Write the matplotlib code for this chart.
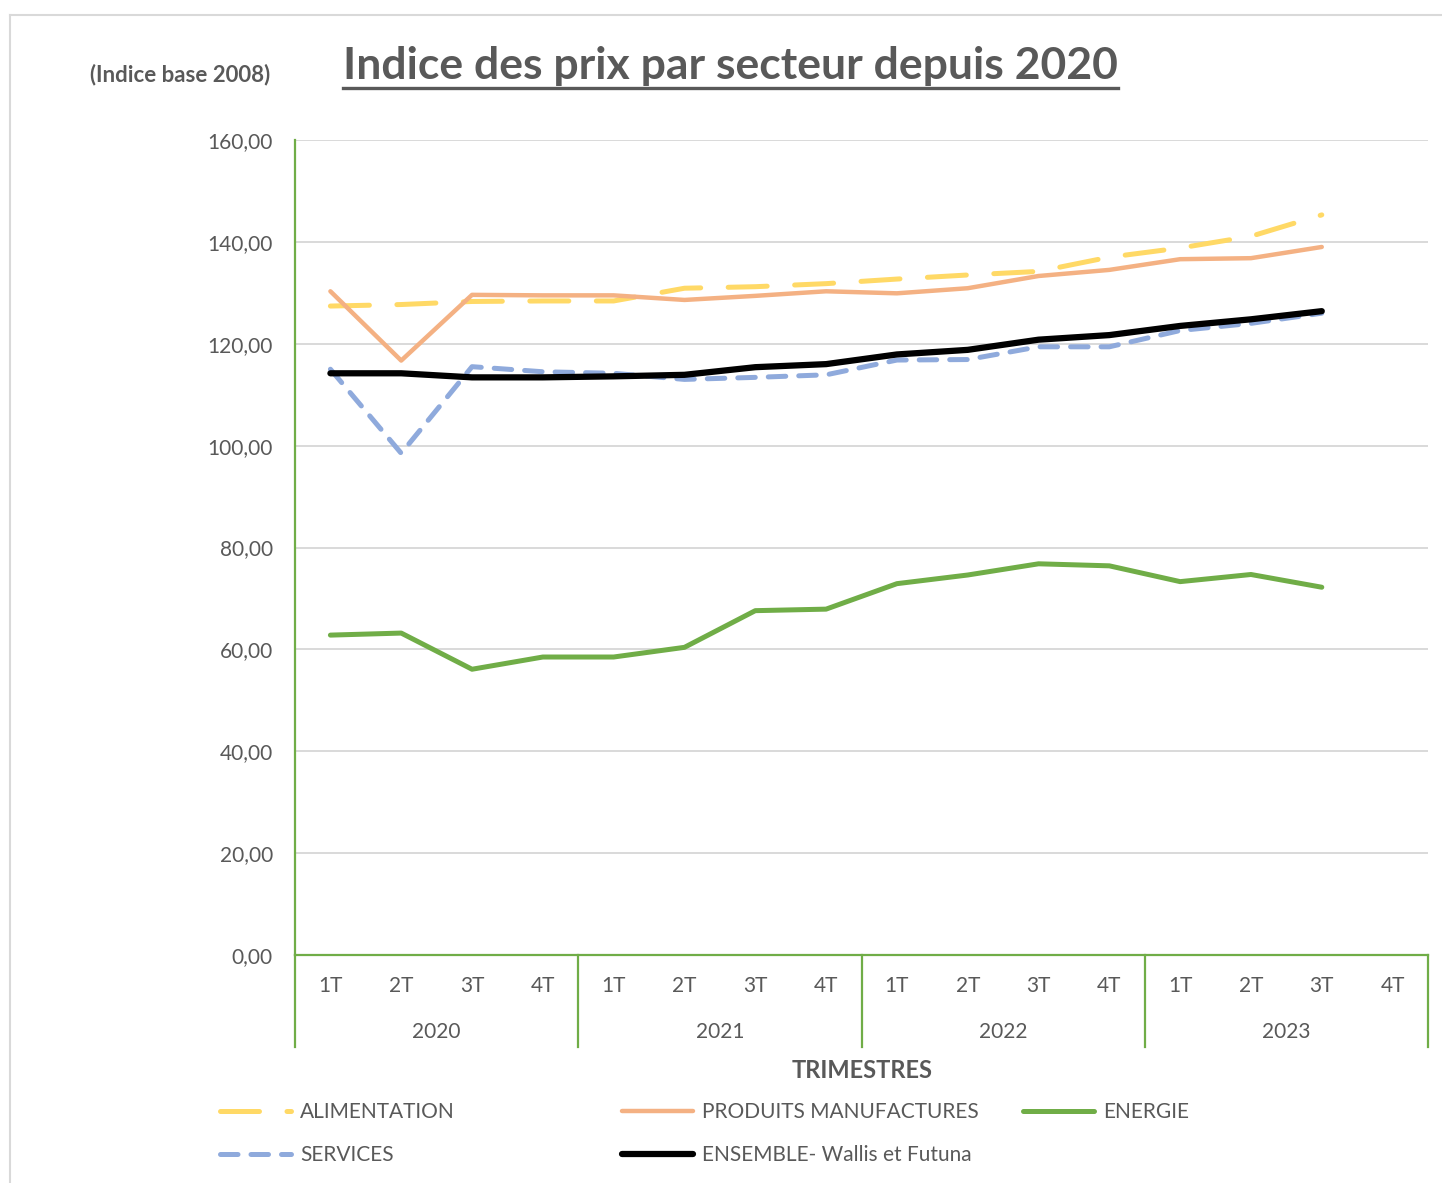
import numpy as np
import matplotlib
matplotlib.use("Agg")
import matplotlib.pyplot as plt
from matplotlib.lines import Line2D
from matplotlib.transforms import blended_transform_factory

plt.rcParams["font.family"] = ["Lato", "DejaVu Sans"]

# --- data ---
quarters = ["1T", "2T", "3T", "4T"] * 4
years = ["2020", "2021", "2022", "2023"]

alimentation = [127.4, 127.7, 128.3, 128.4, 128.4, 130.9, 131.2, 131.8,
                132.7, 133.5, 134.2, 137.0, 138.8, 141.1, 145.3]
produits = [130.3, 116.7, 129.6, 129.5, 129.5, 128.6, 129.4, 130.3,
            129.9, 130.9, 133.3, 134.5, 136.6, 136.8, 139.0]
energie = [62.8, 63.2, 56.1, 58.5, 58.5, 60.4, 67.6, 67.9,
           72.9, 74.6, 76.8, 76.4, 73.3, 74.7, 72.2]
services = [115.0, 98.5, 115.5, 114.5, 114.2, 113.0, 113.4, 113.9,
            116.8, 116.9, 119.4, 119.4, 122.6, 124.0, 126.0]
ensemble = [114.2, 114.2, 113.4, 113.4, 113.6, 113.9, 115.4, 116.0,
            117.9, 118.8, 120.8, 121.7, 123.5, 124.8, 126.4]

GREY = "#595959"
GREEN = "#70AD47"
W, H = 1442, 1183

fig = plt.figure(figsize=(W / 100, H / 100), dpi=100)
fig.patch.set_facecolor("white")
ax = fig.add_axes([295 / W, 1 - 955 / H, (1428 - 295) / W, (955 - 140) / H])

x = np.arange(len(alimentation))

h_alim, = ax.plot(x, alimentation, color="#FFD966", lw=3.6, dashes=(7.8, 5.5),
                  dash_capstyle="round", solid_joinstyle="round", label="ALIMENTATION")
h_prod, = ax.plot(x, produits, color="#F4B183", lw=3.2,
                  solid_capstyle="round", solid_joinstyle="round", label="PRODUITS MANUFACTURES")
h_ener, = ax.plot(x, energie, color=GREEN, lw=3.6,
                  solid_capstyle="round", solid_joinstyle="round", label="ENERGIE")
h_serv, = ax.plot(x, services, color="#8FAADC", lw=3.6, dashes=(3.5, 2.6),
                  dash_capstyle="round", solid_joinstyle="round", label="SERVICES")
h_ens, = ax.plot(x, ensemble, color="black", lw=4.5,
                 solid_capstyle="round", solid_joinstyle="round", label="ENSEMBLE- Wallis et Futuna")

# axes styling
ax.set_xlim(-0.5, 15.5)
ax.set_ylim(0, 160)
yt = np.arange(0, 161, 20)
ax.set_yticks(yt)
ax.set_yticklabels([f"{v:.2f}".replace(".", ",") for v in yt], fontsize=15, color=GREY)
ax.tick_params(axis="y", length=0, pad=16)
ax.set_xticks([])
ax.grid(axis="y", color="#D9D9D9", lw=1.4)
ax.set_axisbelow(True)
for s in ["top", "right"]:
    ax.spines[s].set_visible(False)
for s in ["left", "bottom"]:
    ax.spines[s].set_color(GREEN)
    ax.spines[s].set_linewidth(1.6)

# two-level category axis (quarters / years)
tr = blended_transform_factory(ax.transData, ax.transAxes)
ax_h = (955 - 140)
for i, q in enumerate(quarters):
    ax.text(i, -(986 - 955) / ax_h, q, transform=tr, ha="center", va="center",
            fontsize=15, color=GREY)
for k, yr in enumerate(years):
    ax.text(4 * k + 1.5, -(1032 - 955) / ax_h, yr, transform=tr, ha="center", va="center",
            fontsize=15, color=GREY)
for b in np.arange(-0.5, 16, 4):
    ax.plot([b, b], [0, -(1047 - 955) / ax_h], transform=tr, color=GREEN,
            lw=1.6, clip_on=False)

fig.text(862 / W, 1 - 1071 / H, "TRIMESTRES", ha="center", va="center",
         fontsize=17, fontweight="bold", color=GREY)

# titles
title = fig.text(343 / W, 1 - 66 / H, "Indice des prix par secteur depuis 2020",
                 ha="left", va="center", fontsize=32, fontweight="bold", color=GREY)
fig.text(180 / W, 1 - 75 / H, "(Indice base 2008)", ha="center", va="center",
         fontsize=16, fontweight="bold", color=GREY)

# legends: three columns laid out like the original
leg_kw = dict(loc="upper left", frameon=False, fontsize=15, handlelength=3.4,
              handletextpad=0.45, labelspacing=1.1, borderpad=0, borderaxespad=0,
              labelcolor=GREY)
fig.legend(handles=[h_alim, h_serv], bbox_to_anchor=(220 / W, 1 - 1102 / H), **leg_kw)
fig.legend(handles=[h_prod, h_ens], bbox_to_anchor=(622 / W, 1 - 1102 / H), **leg_kw)
fig.legend(handles=[h_ener], bbox_to_anchor=(1023 / W, 1 - 1102 / H), **leg_kw)

# outer chart-area frame (light grey)
fig.add_artist(Line2D([10 / W, 10 / W], [0, 1 - 15 / H], color="#D9D9D9", lw=1.5))
fig.add_artist(Line2D([10 / W, 1], [1 - 15 / H, 1 - 15 / H], color="#D9D9D9", lw=1.5))

# underline the title
fig.canvas.draw()
bb = title.get_window_extent().transformed(fig.transFigure.inverted())
fig.add_artist(Line2D([bb.x0, bb.x1], [bb.y0 - 0.002, bb.y0 - 0.002], color=GREY, lw=2.4))

fig.savefig("out.png", dpi=100, facecolor="white")
